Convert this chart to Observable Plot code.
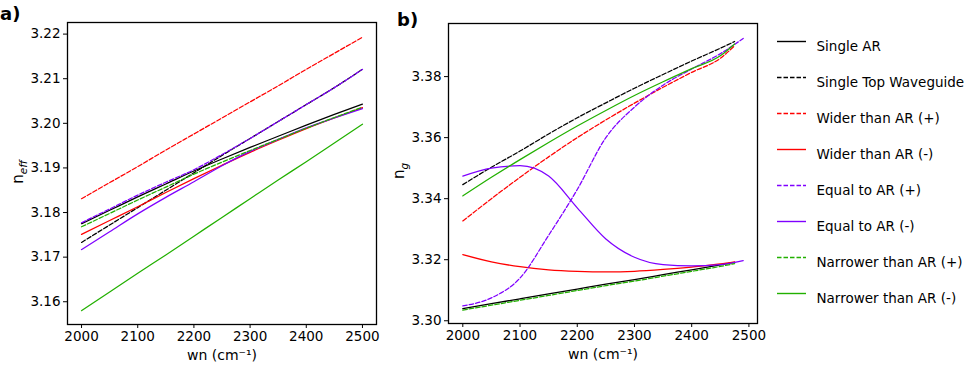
<!DOCTYPE html>
<html><head><meta charset="utf-8">
<script src="https://cdn.jsdelivr.net/npm/d3@7"></script>
<script src="https://cdn.jsdelivr.net/npm/@observablehq/plot@0.6"></script>
<style>
body{margin:0;background:#fff;}
#wrap{position:relative;width:972px;height:367px;font-family:"DejaVu Sans",sans-serif;}
#wrap svg{position:absolute;top:0;}
</style></head><body><div id="wrap"></div>
<script>
const seriesNames = ["Single AR","Single Top Waveguide","Wider than AR (+)","Wider than AR (-)","Equal to AR (+)","Equal to AR (-)","Narrower than AR (+)","Narrower than AR (-)"];
const seriesColors = ["#000000","#000000","#ff0000","#ff0000","#7f00ff","#7f00ff","#22b000","#22b000"];
const seriesDashed = [false,true,true,false,true,false,true,false];

// Panel a: effective index
const wnA = [2000,2050,2100,2150,2200,2250,2300,2350,2400,2450,2500];
const neffSingleAR  = [3.1775,3.1805,3.1835,3.1864,3.1893,3.1920,3.1946,3.1971,3.1996,3.2020,3.2043];
const neffSingleTop = [3.1733,3.1772,3.1811,3.1850,3.1889,3.1928,3.1966,3.2004,3.2042,3.2080,3.2121];
const neffWiderP    = [3.1831,3.1867,3.1903,3.1940,3.1976,3.2012,3.2048,3.2084,3.2121,3.2157,3.2193];
const neffWiderM    = [3.1751,3.1782,3.1813,3.1845,3.1876,3.1906,3.1935,3.1962,3.1988,3.2012,3.2035];
const neffEqualP    = [3.1777,3.1808,3.1839,3.1868,3.1896,3.1930,3.1966,3.2004,3.2042,3.2080,3.2121];
const neffEqualM    = [3.1717,3.1757,3.1797,3.1834,3.1869,3.1905,3.1937,3.1964,3.1990,3.2012,3.2033];
const neffNarrowP   = [3.1768,3.1798,3.1828,3.1857,3.1886,3.1913,3.1939,3.1964,3.1989,3.2013,3.2036];
const neffNarrowM   = [3.1580,3.1622,3.1664,3.1705,3.1747,3.1789,3.1831,3.1873,3.1914,3.1956,3.1998];

// Panel b: group index
const wnB  = [2000,2050,2100,2150,2200,2250,2300,2350,2400,2450,2475];
const wnBx = [2000,2050,2100,2150,2200,2250,2300,2350,2400,2450,2490];
const ngSingleAR  = [3.3040,3.3056,3.3072,3.3088,3.3104,3.3120,3.3135,3.3151,3.3167,3.3183,3.3191];
const ngSingleTop = [3.3446,3.3503,3.3556,3.3612,3.3665,3.3714,3.3762,3.3807,3.3851,3.3893,3.3915];
const ngWiderP    = [3.3327,3.3400,3.3470,3.3537,3.3600,3.3658,3.3713,3.3765,3.3814,3.3860,3.3901];
const ngWiderM    = [3.3217,3.3193,3.3177,3.3167,3.3162,3.3160,3.3162,3.3168,3.3176,3.3186,3.3193];
const ngEqualP    = [3.3049,3.3075,3.3140,3.3280,3.3430,3.3600,3.3700,3.3772,3.3825,3.3875,3.3925];
const ngEqualM    = [3.3474,3.3500,3.3508,3.3474,3.3370,3.3268,3.3208,3.3184,3.3180,3.3184,3.3197];
const ngNarrowP   = [3.3035,3.3051,3.3067,3.3083,3.3099,3.3115,3.3130,3.3146,3.3162,3.3178,3.3187];
const ngNarrowM   = [3.3409,3.3470,3.3528,3.3584,3.3638,3.3689,3.3738,3.3783,3.3826,3.3868,3.3907];

const xTicks = [2000,2100,2200,2300,2400,2500];
const yTicksA = [3.16,3.17,3.18,3.19,3.20,3.21,3.22];
const yTicksB = [3.30,3.32,3.34,3.36,3.38];
const xLabel = "wn (cm\u207B\u00B9)";

const seriesA = [[wnA,neffSingleAR],[wnA,neffSingleTop],[wnA,neffWiderP],[wnA,neffWiderM],[wnA,neffEqualP],[wnA,neffEqualM],[wnA,neffNarrowP],[wnA,neffNarrowM]];
const seriesB = [[wnB,ngSingleAR],[wnB,ngSingleTop],[wnB,ngWiderP],[wnB,ngWiderM],[wnBx,ngEqualP],[wnBx,ngEqualM],[wnB,ngNarrowP],[wnB,ngNarrowM]];

function lineMarks(series){
  return series.map(([xs,ys],i)=>Plot.line(xs.map((x,j)=>({wn:x,v:ys[j]})),{
    x:"wn", y:"v", stroke: seriesColors[i], strokeWidth:1.25,
    strokeDasharray: seriesDashed[i] ? "4.5,2" : null, curve:"monotone-x"
  }));
}

const fontStyle = {fontSize:"13.5px", fontFamily:"DejaVu Sans, sans-serif", color:"#000", background:"transparent", overflow:"visible"};

function panel(series, opts){
  const p = Plot.plot({
    width: opts.width, height: 367,
    marginLeft: opts.ml, marginRight: opts.mr, marginTop: opts.mt, marginBottom: opts.mb,
    style: fontStyle,
    x: {domain: opts.xd},
    y: {domain: opts.yd},
    marks: [
      ...lineMarks(series),
      Plot.frame({stroke:"#000", strokeWidth:1.3}),
      Plot.axisX({ticks: xTicks, tickFormat: d3.format("d"), tickSize:4, tickPadding:3, label:null}),
      Plot.axisY({ticks: opts.yt, tickFormat: d3.format(".2f"), tickSize:4, tickPadding:3, label:null}),
      Plot.text([xLabel], {frameAnchor:"bottom", dy:35, fontSize:14})
    ]
  });
  p.style.left = opts.left + "px";
  return p;
}

const wrap = document.getElementById("wrap");

const pa = panel(seriesA, {width:380, left:0, ml:67, mr:4, mt:22, mb:43, xd:[1975,2525], yd:[3.1549,3.2226], yt:yTicksA});
wrap.appendChild(pa);
const pb = panel(seriesB, {width:390, left:380, ml:68, mr:13, mt:23, mb:44, xd:[1975,2515], yd:[3.2991,3.3974], yt:yTicksB});
wrap.appendChild(pb);

function addYLabel(svg, x, y, main, sub){
  const t = d3.select(svg).append("text")
    .attr("transform", `translate(${x},${y}) rotate(-90)`)
    .attr("text-anchor","middle").attr("font-size",15).attr("fill","#000")
    .attr("font-family","DejaVu Sans, sans-serif");
  t.append("tspan").text(main);
  t.append("tspan").attr("dy",3.5).attr("font-size",10.5).attr("font-style","italic").text(sub);
}
addYLabel(pa, 23, 172, "n", "eff");
addYLabel(pb, 24, 171, "n", "g");

function addPanelLabel(svg, x, y, s){
  d3.select(svg).append("text").attr("x",x).attr("y",y).attr("font-size",18).attr("font-weight","bold")
    .attr("text-anchor","start")
    .attr("font-family","DejaVu Sans, sans-serif").attr("fill","#000").text(s);
}
addPanelLabel(pa, 0, 20, "a)");
addPanelLabel(pb, 17, 26, "b)");

// Legend
const legendRows = seriesNames.map((n,i)=>({name:n, color:seriesColors[i], dashed:seriesDashed[i]}));
const lg = Plot.plot({
  width: 202, height: 367, margin: 0,
  style: fontStyle,
  x: {type:"identity", axis:null},
  y: {type:"point", domain: seriesNames, range:[37.5,296], padding:0, axis:null},
  marks: [
    Plot.ruleY(legendRows.filter(d=>!d.dashed), {y:"name", x1:7, x2:36, stroke:d=>d.color, strokeWidth:1.4}),
    Plot.ruleY(legendRows.filter(d=>d.dashed), {y:"name", x1:7, x2:36, stroke:d=>d.color, strokeWidth:1.4, strokeDasharray:"4.5,2"}),
    Plot.text(legendRows, {y:"name", x:46, dy:5, text:"name", textAnchor:"start", fontSize:13.5, fill:"#000"})
  ]
});
lg.style.left = "770px";
wrap.appendChild(lg);
</script></body></html>
